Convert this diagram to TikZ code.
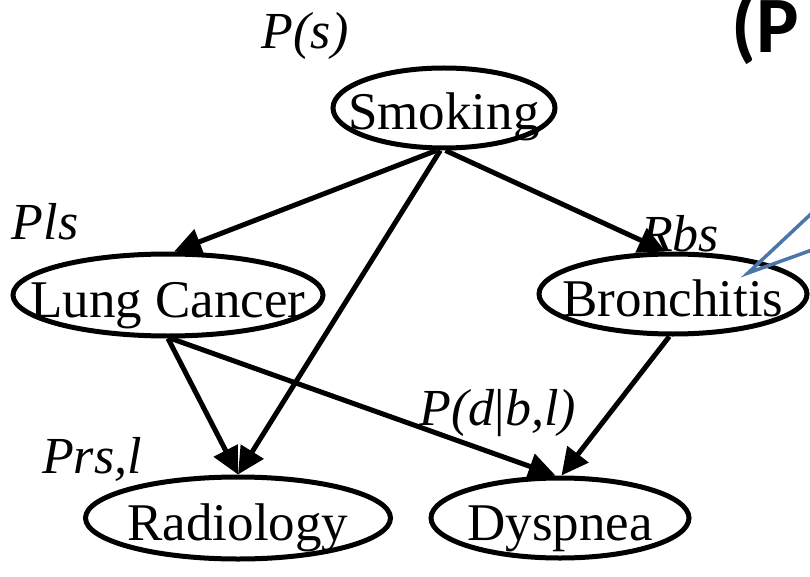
\documentclass[tikz,border=0pt]{standalone}
\usepackage{fontspec}
\setmainfont{Liberation Serif}
\newfontfamily\calib{Carlito}
\usetikzlibrary{shapes.geometric,arrows.meta}
\definecolor{calloutblue}{RGB}{74,118,168}
\tikzset{
  var/.style={ellipse, draw, line width=5pt, inner sep=0pt,
    label={[inner sep=0pt, text height=36pt, text depth=12pt, yshift=-10pt, font=\fontsize{53}{60}\selectfont]center:#1}},
  prob/.style={inner sep=0pt, font=\fontsize{52}{58}\selectfont\itshape},
  edge/.style={line width=5pt, -{Triangle[length=27pt,width=26pt]}},
}
\begin{document}
\begin{tikzpicture}[x=1pt,y=-1pt]
\useasboundingbox (0,0) rectangle (810,577);
\node[var=Smoking, minimum width=222pt, minimum height=80pt] (smk) at (444,108) {};
\node[var=Lung Cancer, minimum width=310pt, minimum height=82pt] (lc) at (168,295) {};
\node[var=Bronchitis, minimum width=268pt, minimum height=80pt] (br) at (673,294) {};
\node[var=Radiology, minimum width=305pt, minimum height=82pt] (rad) at (238,518) {};
\node[var=Dyspnea, minimum width=258pt, minimum height=80pt] (dys) at (560,518) {};

\node[prob] (ps) at (305,36) {P(s)};
\node[prob] (pls) at (45,222) {Pls};
\node[prob] (rbs) at (680,234) {Rbs};
\node[prob] (prs) at (92,459) {Prs,l};
\node[prob] (pd) at (498,413) {P(d{\upshape|}b,l)};

\node[inner sep=0pt, anchor=base west, font=\calib\bfseries\fontsize{80}{90}\selectfont] (title) at (731,53) {(P};

\draw[edge] (smk.-100) -- (lc.82);
\draw[edge] (smk.-95) -- (rad.north);
\draw[edge] (smk.-88) -- (br.100);
\draw[edge] (lc.-90) -- (rad.north);
\draw[edge] (lc.-86) -- (dys.96);
\draw[edge] (br.-95) -- (dys.88);

\coordinate (tip) at (748,273);
\coordinate (c1) at (812,213);
\coordinate (c2) at (812,250);
\draw[calloutblue, line width=3.5pt, line join=miter] (c1) -- (tip) -- (c2);
\end{tikzpicture}
\end{document}
